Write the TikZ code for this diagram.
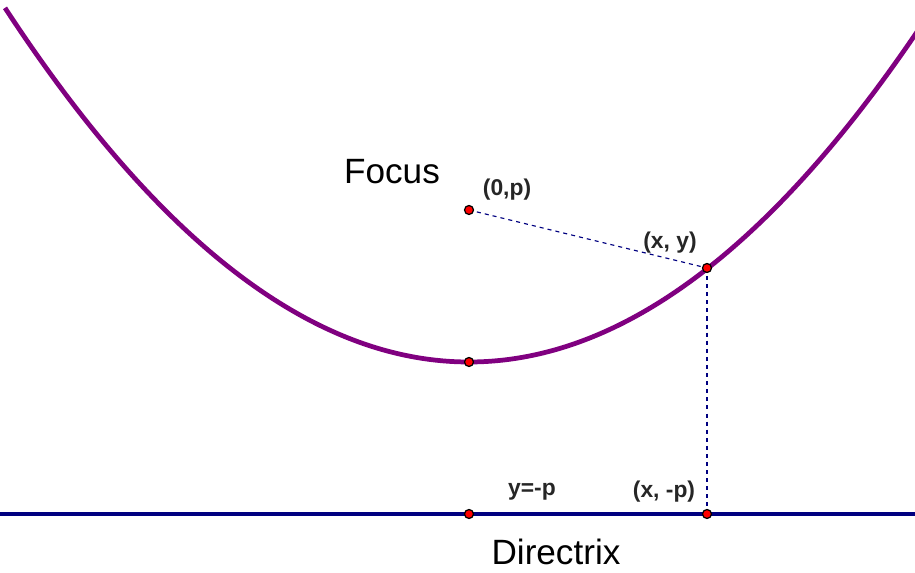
\documentclass[tikz,border=0pt]{standalone}
\usepackage{fontspec}
\setmainfont{Liberation Sans}
\usepackage{xcolor}
\usetikzlibrary{calc, positioning}

\definecolor{parabcol}{RGB}{128,0,128}
\definecolor{dircol}{RGB}{0,0,128}

\tikzset{
    curveline/.style={line width=2.7pt, parabcol},
    dirline/.style={line width=2.7pt, dircol},
    distline/.style={line width=0.65pt, dircol, dash pattern=on 2.3pt off 2.3pt},
    ptmark/.style={fill=red, draw=black, line width=0.7pt},
    bigtext/.style={font=\fontsize{20}{24}\selectfont},
    smalltext/.style={font=\fontsize{13}{15}\selectfont\bfseries, text=black!85}
}

\begin{document}
\begin{tikzpicture}[>=stealth]

    % =================================================================
    % 1. KHUNG HINH
    % =================================================================
    \useasboundingbox (0,0) rectangle (18.3,11.46);

    % =================================================================
    % 2. TOA DO CAC DIEM CHINH
    % =================================================================
    \coordinate (V) at (9.38,4.22);   % dinh
    \coordinate (F) at (9.38,7.26);   % tieu diem
    \coordinate (P) at (14.14,6.10);  % diem tren parabol
    \coordinate (Q) at (14.14,1.18);  % hinh chieu tren duong chuan
    \coordinate (D) at (9.38,1.18);

    % Hai dau duong chuan
    \coordinate (DirStart) at (0,1.18);
    \coordinate (DirEnd) at (18.3,1.18);

    % =================================================================
    % 3. PARABOL VA DUONG CHUAN
    % =================================================================
    \begin{scope}
        \clip (0,0) rectangle (18.3,11.46);
        \draw[curveline, domain=0.1:18.4, samples=120, smooth]
            plot (\x, {4.22 + (\x-9.38)*(\x-9.38)/12.16});
    \end{scope}

    \draw[dirline] (DirStart) -- (DirEnd);

    % Cac doan khoang cach
    \draw[distline] (F) -- (P);
    \draw[distline] (P) -- (Q);

    % =================================================================
    % 4. CAC DIEM
    % =================================================================
    \filldraw[ptmark] (F) circle (0.09);
    \filldraw[ptmark] (V) circle (0.09);
    \filldraw[ptmark] (P) circle (0.09);
    \filldraw[ptmark] (Q) circle (0.09);
    \filldraw[ptmark] (D) circle (0.09);

    % =================================================================
    % 5. NHAN
    % =================================================================
    \node[bigtext] (focuslbl) at (7.84,8.02) {Focus};
    \node[bigtext] (dirlbl) at (11.12,0.42) {Directrix};
    \node[smalltext] (flbl) at (10.14,7.66) {(0,p)};
    \node[smalltext] (plbl) at (13.40,6.60) {(x, y)};
    \node[smalltext] (dlbl) at (10.64,1.62) {y=-p};
    \node[smalltext] (qlbl) at (13.28,1.62) {(x, -p)};

\end{tikzpicture}
\end{document}
